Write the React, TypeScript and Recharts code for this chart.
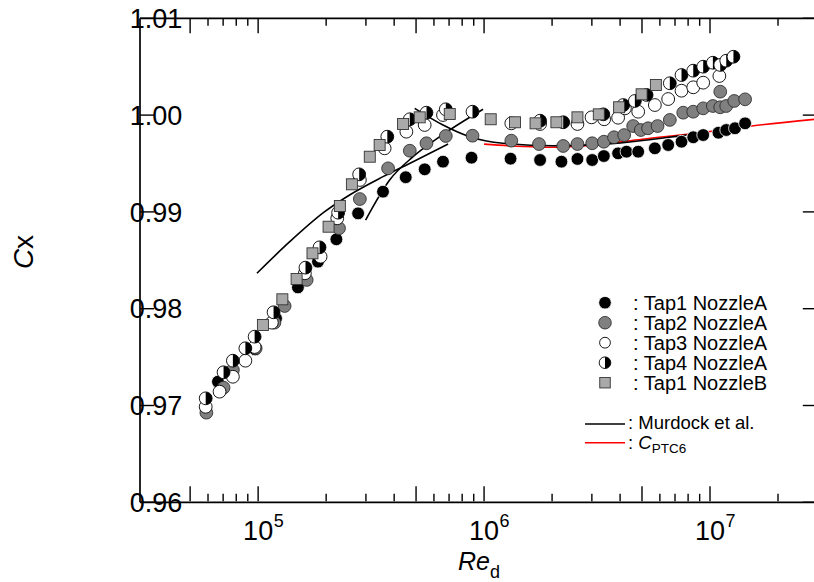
import React from 'react';
import { ComposedChart, Scatter, Line, XAxis, YAxis } from 'recharts';

const FONT = '"Liberation Sans", Arial, Helvetica, sans-serif';

// ---------- data (Re_d, Cx) ----------
const tap1NozzleA = [
  { re: 6.64e4, cx: 0.97246 },
  { re: 7.7e4, cx: 0.9735 },
  { re: 9.7e4, cx: 0.9758 },
  { re: 1.2e5, cx: 0.979 },
  { re: 1.5e5, cx: 0.9822 },
  { re: 1.84e5, cx: 0.98486 },
  { re: 2.22e5, cx: 0.98717 },
  { re: 2.77e5, cx: 0.98985 },
  { re: 3.57e5, cx: 0.99209 },
  { re: 4.5e5, cx: 0.99358 },
  { re: 5.46e5, cx: 0.9944 },
  { re: 6.58e5, cx: 0.99519 },
  { re: 8.8e5, cx: 0.9956 },
  { re: 1.31e6, cx: 0.9955 },
  { re: 1.77e6, cx: 0.99536 },
  { re: 2.2e6, cx: 0.99519 },
  { re: 2.59e6, cx: 0.99547 },
  { re: 3.01e6, cx: 0.99536 },
  { re: 3.39e6, cx: 0.99577 },
  { re: 3.92e6, cx: 0.99605 },
  { re: 4.27e6, cx: 0.99622 },
  { re: 4.81e6, cx: 0.99622 },
  { re: 5.7e6, cx: 0.99657 },
  { re: 6.53e6, cx: 0.99691 },
  { re: 7.48e6, cx: 0.99725 },
  { re: 8.43e6, cx: 0.99771 },
  { re: 9.33e6, cx: 0.99794 },
  { re: 1.09e7, cx: 0.99818 },
  { re: 1.18e7, cx: 0.99846 },
  { re: 1.29e7, cx: 0.99864 },
  { re: 1.43e7, cx: 0.99915 },
];

const tap2NozzleA = [
  { re: 5.9e4, cx: 0.96926 },
  { re: 7.03e4, cx: 0.97184 },
  { re: 7.73e4, cx: 0.97367 },
  { re: 9.75e4, cx: 0.97591 },
  { re: 1.18e5, cx: 0.97856 },
  { re: 1.31e5, cx: 0.98028 },
  { re: 1.64e5, cx: 0.98297 },
  { re: 2.28e5, cx: 0.98831 },
  { re: 2.82e5, cx: 0.99133 },
  { re: 3.76e5, cx: 0.9945 },
  { re: 4.69e5, cx: 0.99632 },
  { re: 5.56e5, cx: 0.99709 },
  { re: 6.77e5, cx: 0.99784 },
  { re: 8.89e5, cx: 0.99787 },
  { re: 1.32e6, cx: 0.99736 },
  { re: 1.75e6, cx: 0.99701 },
  { re: 2.24e6, cx: 0.99681 },
  { re: 2.59e6, cx: 0.99701 },
  { re: 3.01e6, cx: 0.99709 },
  { re: 3.39e6, cx: 0.99725 },
  { re: 3.76e6, cx: 0.99771 },
  { re: 4.17e6, cx: 0.99794 },
  { re: 4.57e6, cx: 0.99887 },
  { re: 4.94e6, cx: 0.99846 },
  { re: 5.32e6, cx: 0.99864 },
  { re: 5.86e6, cx: 0.99887 },
  { re: 6.64e6, cx: 0.9995 },
  { re: 7.61e6, cx: 1.00025 },
  { re: 8.43e6, cx: 1.00035 },
  { re: 9.33e6, cx: 1.0007 },
  { re: 1.03e7, cx: 1.00094 },
  { re: 1.11e7, cx: 1.00242 },
  { re: 1.11e7, cx: 1.00081 },
  { re: 1.18e7, cx: 1.00094 },
  { re: 1.28e7, cx: 1.00146 },
  { re: 1.43e7, cx: 1.00163 },
];

const tap3NozzleA = [
  { re: 5.86e4, cx: 0.96987 },
  { re: 6.75e4, cx: 0.97143 },
  { re: 7.73e4, cx: 0.97297 },
  { re: 8.78e4, cx: 0.97463 },
  { re: 9.65e4, cx: 0.97604 },
  { re: 1.15e5, cx: 0.97856 },
  { re: 1.61e5, cx: 0.98366 },
  { re: 1.89e5, cx: 0.98537 },
  { re: 2.24e5, cx: 0.98934 },
  { re: 2.82e5, cx: 0.9933 },
  { re: 3.63e5, cx: 0.99657 },
  { re: 4.53e5, cx: 0.99829 },
  { re: 5.46e5, cx: 0.99898 },
  { re: 6.58e5, cx: 1.00001 },
  { re: 1.32e6, cx: 0.99915 },
  { re: 1.77e6, cx: 0.99908 },
  { re: 2.59e6, cx: 0.99908 },
  { re: 2.99e6, cx: 0.99977 },
  { re: 3.4e6, cx: 0.99957 },
  { re: 3.92e6, cx: 0.99973 },
  { re: 4.2e6, cx: 1.0007 },
  { re: 4.81e6, cx: 1.00035 },
  { re: 5.7e6, cx: 1.00104 },
  { re: 6.53e6, cx: 1.00166 },
  { re: 7.48e6, cx: 1.00252 },
  { re: 8.43e6, cx: 1.00287 },
  { re: 9.33e6, cx: 1.00335 },
  { re: 1.1e7, cx: 1.00404 },
];

const tap4NozzleA = [
  { re: 5.86e4, cx: 0.97074 },
  { re: 7.03e4, cx: 0.97343 },
  { re: 7.73e4, cx: 0.97463 },
  { re: 8.78e4, cx: 0.97591 },
  { re: 9.65e4, cx: 0.97711 },
  { re: 1.17e5, cx: 0.97963 },
  { re: 1.62e5, cx: 0.98424 },
  { re: 1.87e5, cx: 0.98634 },
  { re: 2.26e5, cx: 0.98992 },
  { re: 2.8e5, cx: 0.99388 },
  { re: 3.73e5, cx: 0.99777 },
  { re: 4.69e5, cx: 0.99957 },
  { re: 5.56e5, cx: 1.00025 },
  { re: 6.77e5, cx: 1.0006 },
  { re: 8.89e5, cx: 1.00035 },
  { re: 1.77e6, cx: 0.99942 },
  { re: 2.24e6, cx: 0.99926 },
  { re: 3.37e6, cx: 1.00008 },
  { re: 4.13e6, cx: 1.00104 },
  { re: 4.65e6, cx: 1.00146 },
  { re: 5.24e6, cx: 1.00208 },
  { re: 6.64e6, cx: 1.00329 },
  { re: 7.48e6, cx: 1.00414 },
  { re: 8.43e6, cx: 1.00459 },
  { re: 9.33e6, cx: 1.005 },
  { re: 1.03e7, cx: 1.00541 },
  { re: 1.11e7, cx: 1.00518 },
  { re: 1.18e7, cx: 1.00562 },
  { re: 1.27e7, cx: 1.00603 },
];

const tap1NozzleB = [
  { re: 1.05e5, cx: 0.97832 },
  { re: 1.28e5, cx: 0.98097 },
  { re: 1.48e5, cx: 0.98307 },
  { re: 1.74e5, cx: 0.98572 },
  { re: 2.05e5, cx: 0.98847 },
  { re: 2.3e5, cx: 0.99061 },
  { re: 2.6e5, cx: 0.99285 },
  { re: 3.12e5, cx: 0.9957 },
  { re: 3.45e5, cx: 0.99691 },
  { re: 4.38e5, cx: 0.99908 },
  { re: 5.19e5, cx: 0.99977 },
  { re: 7.05e5, cx: 1.00011 },
  { re: 1.07e6, cx: 0.99957 },
  { re: 1.37e6, cx: 0.99926 },
  { re: 1.69e6, cx: 0.99915 },
  { re: 2.09e6, cx: 0.99926 },
  { re: 2.59e6, cx: 0.99977 },
  { re: 3.22e6, cx: 1.00008 },
  { re: 3.96e6, cx: 1.00081 },
  { re: 4.98e6, cx: 1.00215 },
  { re: 5.76e6, cx: 1.00311 },
];

// Murdock et al. correlation (three segments)
const murdockLow = [
  { re: 9.88e4, cx: 0.98366 },
  { re: 1.38e5, cx: 0.98692 },
  { re: 1.97e5, cx: 0.99002 },
  { re: 2.54e5, cx: 0.99175 },
  { re: 3.57e5, cx: 0.99364 },
  { re: 4.85e5, cx: 0.99519 },
  { re: 6.93e5, cx: 0.99701 },
];
const murdockMid = [
  { re: 2.99e5, cx: 0.98916 },
  { re: 3.82e5, cx: 0.9933 },
  { re: 4.85e5, cx: 0.9957 },
  { re: 6.37e5, cx: 0.99777 },
  { re: 9.9e5, cx: 1.0006 },
];
const murdockHigh = [
  { re: 4.93e5, cx: 1.0007 },
  { re: 6.58e5, cx: 0.99898 },
  { re: 8.64e5, cx: 0.99777 },
  { re: 1.21e6, cx: 0.99709 },
  { re: 2.02e6, cx: 0.99684 },
  { re: 3.37e6, cx: 0.99698 },
  { re: 5.6e6, cx: 0.9975 },
  { re: 7.88e6, cx: 0.99794 },
];
// C_PTC6
const cPTC6 = [
  { re: 1.0e6, cx: 0.997 },
  { re: 1.5e6, cx: 0.99675 },
  { re: 2.0e6, cx: 0.99668 },
  { re: 3.0e6, cx: 0.9969 },
  { re: 5.0e6, cx: 0.9975 },
  { re: 1.0e7, cx: 0.9983 },
  { re: 1.53e7, cx: 0.99888 },
  { re: 3.0e7, cx: 0.9996 },
];

// ---------- axes ----------
const xDomain = [3e4, 3e7];
const xTicks = [
  5e4, 6e4, 7e4, 8e4, 9e4,
  1e5, 2e5, 3e5, 4e5, 5e5, 6e5, 7e5, 8e5, 9e5,
  1e6, 2e6, 3e6, 4e6, 5e6, 6e6, 7e6, 8e6, 9e6,
  1e7, 2e7,
];
const xLongTicks = [5e4, 1e5, 5e5, 1e6, 5e6, 1e7];
const xDecadeTicks = [1e5, 1e6, 1e7];
const xDecadeExponents = ['5', '6', '7'];
const yDomain = [0.96, 1.01];
const yTicks = [0.96, 0.97, 0.98, 0.99, 1.0, 1.01];
const yTickLabels = ['0.96', '0.97', '0.98', '0.99', '1.00', '1.01'];

const legendLabels = ['Tap1 NozzleA', 'Tap2 NozzleA', 'Tap3 NozzleA', 'Tap4 NozzleA', 'Tap1 NozzleB'];

// ---------- marker shapes ----------
const R = 6.4;
const GRAY = '#808080';
const SQ_FILL = '#a9a9a9';

const markBlack = (cx: number, cy: number, r = R) => (
  <circle cx={cx} cy={cy} r={r} fill="#000" stroke="#fff" strokeWidth={0.8} />
);
const markGray = (cx: number, cy: number, r = R) => (
  <circle cx={cx} cy={cy} r={r} fill={GRAY} stroke="#222" strokeWidth={0.8} />
);
const markWhite = (cx: number, cy: number, r = R) => (
  <circle cx={cx} cy={cy} r={r} fill="#fff" stroke="#000" strokeWidth={0.9} />
);
const markHalf = (cx: number, cy: number, r = R) => (
  <g>
    <circle cx={cx} cy={cy} r={r} fill="#fff" stroke="#000" strokeWidth={0.9} />
    <path d={`M ${cx} ${cy - r} A ${r} ${r} 0 0 1 ${cx} ${cy + r} Z`} fill="#000" />
  </g>
);
const markSquare = (cx: number, cy: number, s = 11) => (
  <rect x={cx - s / 2} y={cy - s / 2} width={s} height={s} fill={SQ_FILL} stroke="#333" strokeWidth={0.9} />
);

const shapeOf = (fn: (cx: number, cy: number) => React.ReactElement) => (p: any) =>
  p && typeof p.cx === 'number' && typeof p.cy === 'number' ? fn(p.cx, p.cy) : <g />;

// ---------- tick components ----------
const isIn = (arr: number[], v: number) => arr.some((a) => Math.abs(a - v) < a * 1e-6);

const BottomTick = (p: any) => {
  const { x, payload } = p;
  const y = p.y - 1;
  const v = payload.value;
  const len = isIn(xLongTicks, v) ? 15 : 7.5;
  const di = xDecadeTicks.findIndex((d) => Math.abs(d - v) < d * 1e-6);
  return (
    <g>
      <line x1={x} y1={y} x2={x} y2={y - len} stroke="#000" strokeWidth={1.4} />
      {di >= 0 && (
        <g fontFamily={FONT} fill="#000">
          <text x={x} y={y + 38.5} textAnchor="middle" fontSize={27}>10</text>
          <text x={x + 15.5} y={y + 25.5} fontSize={18}>{xDecadeExponents[di]}</text>
        </g>
      )}
    </g>
  );
};

const TopTick = (p: any) => {
  const { x, y, payload } = p;
  const len = isIn(xLongTicks, payload.value) ? 15 : 7.5;
  return <line x1={x} y1={y} x2={x} y2={y + len} stroke="#000" strokeWidth={1.4} />;
};

const LeftTick = (p: any) => {
  const { x, y, payload } = p;
  const i = yTicks.findIndex((t) => Math.abs(t - payload.value) < 1e-9);
  return (
    <g>
      <line x1={x} y1={y} x2={x + 14} y2={y} stroke="#000" strokeWidth={1.4} />
      <text x={x + 16} y={y + 9.7} textAnchor="middle" fontSize={27} fontFamily={FONT} fill="#000">
        {i >= 0 ? yTickLabels[i] : ''}
      </text>
    </g>
  );
};

const RightTick = (p: any) => {
  const { x, y } = p;
  return <line x1={x} y1={y} x2={x - 15} y2={y} stroke="#000" strokeWidth={1.4} />;
};

const axisLineStyle = { stroke: '#000', strokeWidth: 1.7 };

export default function App() {
  const rows = [markBlack, markGray, markWhite, markHalf, markSquare];
  return (
    <div style={{ position: 'absolute', left: 0, top: 0, width: 814, height: 582, overflow: 'hidden', background: '#fff' }}>
      <ComposedChart
        width={840}
        height={582}
        margin={{ top: 17.3, right: 21.2, bottom: 78.7, left: 139 }}
      >
        <XAxis
          type="number"
          dataKey="re"
          scale="log"
          domain={xDomain}
          allowDataOverflow
          ticks={xTicks}
          interval={0}
          height={1}
          tickSize={0}
          tickMargin={0}
          tickLine={false}
          axisLine={axisLineStyle}
          tick={(p: any) => <BottomTick {...p} />}
        />
        <XAxis
          xAxisId="top"
          orientation="top"
          type="number"
          dataKey="re"
          scale="log"
          domain={xDomain}
          allowDataOverflow
          ticks={xTicks}
          interval={0}
          height={1}
          tickSize={0}
          tickMargin={0}
          tickLine={false}
          axisLine={axisLineStyle}
          tick={(p: any) => <TopTick {...p} />}
        />
        <YAxis
          type="number"
          dataKey="cx"
          domain={yDomain}
          allowDataOverflow
          ticks={yTicks}
          interval={0}
          width={1}
          tickSize={0}
          tickMargin={0}
          tickLine={false}
          axisLine={axisLineStyle}
          tick={(p: any) => <LeftTick {...p} />}
        />
        <YAxis
          yAxisId="right"
          orientation="right"
          type="number"
          domain={yDomain}
          allowDataOverflow
          ticks={yTicks}
          interval={0}
          width={1}
          tickSize={0}
          tickMargin={0}
          tickLine={false}
          axisLine={axisLineStyle}
          tick={(p: any) => <RightTick {...p} />}
        />

        <Line data={cPTC6} dataKey="cx" type="monotone" stroke="#ff0000" strokeWidth={1.6} dot={false} activeDot={false} isAnimationActive={false} />

        <Scatter data={tap1NozzleA} dataKey="cx" shape={shapeOf(markBlack)} isAnimationActive={false} />
        <Scatter data={tap2NozzleA} dataKey="cx" shape={shapeOf(markGray)} isAnimationActive={false} />
        <Scatter data={tap3NozzleA} dataKey="cx" shape={shapeOf(markWhite)} isAnimationActive={false} />
        <Scatter data={tap4NozzleA} dataKey="cx" shape={shapeOf(markHalf)} isAnimationActive={false} />
        <Scatter data={tap1NozzleB} dataKey="cx" shape={shapeOf(markSquare)} isAnimationActive={false} />

        <Line data={murdockLow} dataKey="cx" type="monotone" stroke="#000" strokeWidth={1.6} dot={false} activeDot={false} isAnimationActive={false} />
        <Line data={murdockMid} dataKey="cx" type="monotone" stroke="#000" strokeWidth={1.6} dot={false} activeDot={false} isAnimationActive={false} />
        <Line data={murdockHigh} dataKey="cx" type="monotone" stroke="#000" strokeWidth={1.6} dot={false} activeDot={false} isAnimationActive={false} />
      </ComposedChart>

      <svg
        width={814}
        height={582}
        style={{ position: 'absolute', left: 0, top: 0, pointerEvents: 'none' }}
        fontFamily={FONT}
      >
        {legendLabels.map((label, i) => {
          const cy = 302.7 + i * 20;
          const mk = rows[i];
          const r = i === 2 ? 5.4 : i === 3 ? 5.8 : 6.3;
          return (
            <g key={label}>
              {i === 4 ? markSquare(605, cy, 10.5) : mk(605, cy, r)}
              <text x={633} y={cy + 7} fontSize={20} fill="#000">{': ' + label}</text>
            </g>
          );
        })}
        <line x1={585} y1={424} x2={625} y2={424} stroke="#000" strokeWidth={1.6} />
        <text x={628} y={428.5} fontSize={18.5} fill="#000">: Murdock et al.</text>
        <line x1={585} y1={442.7} x2={625} y2={442.7} stroke="#ff0000" strokeWidth={1.6} />
        <text x={628} y={449} fontSize={18.5} fill="#000">
          {': '}
          <tspan fontStyle="italic">C</tspan>
          <tspan fontSize={13.5} dy={4}>PTC6</tspan>
        </text>

        <text x={479} y={570} textAnchor="middle" fill="#000">
          <tspan fontStyle="italic" fontSize={25}>Re</tspan>
          <tspan fontSize={18} dy={8}>d</tspan>
        </text>
        <text transform="translate(33,252) rotate(-90)" textAnchor="middle" fontSize={28} fill="#000">
          <tspan fontStyle="italic">C</tspan>x
        </text>
      </svg>
    </div>
  );
}
